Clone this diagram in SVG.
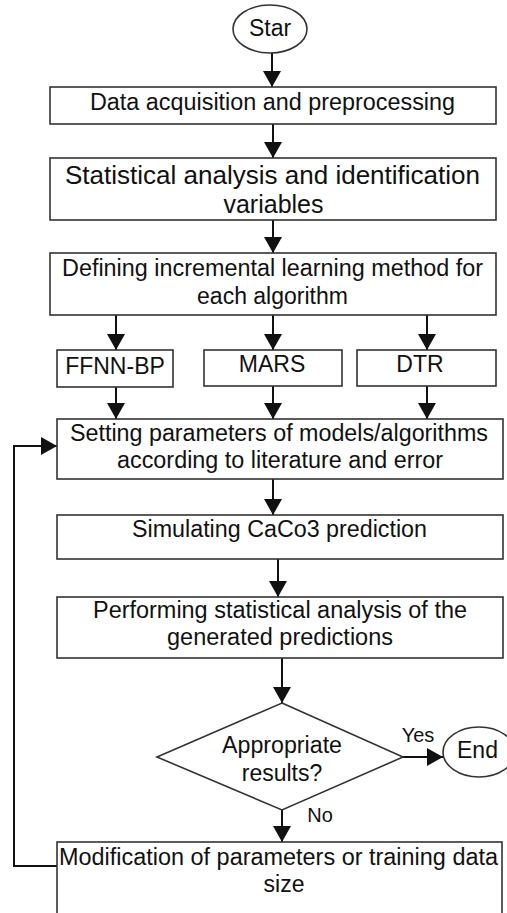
<svg xmlns="http://www.w3.org/2000/svg" width="507" height="913" viewBox="0 0 507 913">
<style>
.box{fill:#fff;stroke:#333;stroke-width:1.6}
.t{font-family:"Liberation Sans",Arial,sans-serif;font-size:23px;fill:#111;text-anchor:middle}
.big{font-size:25px}
.lbl{font-size:20px}
.c{fill:none;stroke:#111;stroke-width:2}
</style>
<defs>
<marker id="ah" viewBox="0 0 16 18" refX="16" refY="9" markerWidth="16" markerHeight="18" markerUnits="userSpaceOnUse" orient="auto">
<path d="M0,0 L16,9 L0,18 z" fill="#111"/>
</marker>
</defs>
<rect width="507" height="913" fill="#fff"/>
<g id="connectors">
<line class="c" x1="272" y1="53" x2="272" y2="87" marker-end="url(#ah)"/>
<line class="c" x1="273" y1="124" x2="273" y2="158" marker-end="url(#ah)"/>
<line class="c" x1="273" y1="220" x2="273" y2="253" marker-end="url(#ah)"/>
<line class="c" x1="116" y1="315" x2="116" y2="350" marker-end="url(#ah)"/>
<line class="c" x1="273" y1="315" x2="273" y2="350" marker-end="url(#ah)"/>
<line class="c" x1="427" y1="315" x2="427" y2="350" marker-end="url(#ah)"/>
<line class="c" x1="116" y1="387" x2="116" y2="419" marker-end="url(#ah)"/>
<line class="c" x1="273" y1="386" x2="273" y2="419" marker-end="url(#ah)"/>
<line class="c" x1="427" y1="386" x2="427" y2="419" marker-end="url(#ah)"/>
<line class="c" x1="273" y1="479" x2="273" y2="515" marker-end="url(#ah)"/>
<line class="c" x1="278" y1="559" x2="278" y2="597" marker-end="url(#ah)"/>
<line class="c" x1="282" y1="658" x2="282" y2="703" marker-end="url(#ah)"/>
<line class="c" x1="403" y1="757" x2="443" y2="757" marker-end="url(#ah)"/>
<line class="c" x1="282" y1="810" x2="282" y2="842" marker-end="url(#ah)"/>
<polyline class="c" points="57,866 14,866 14,446 57,446" marker-end="url(#ah)"/>
<text class="t lbl" x="418" y="742">Yes</text>
<text class="t lbl" x="320" y="822">No</text>
</g>
<g id="start">
<ellipse class="box" cx="270" cy="29" rx="37" ry="24"/>
<text class="t" x="270" y="36">Star</text>
</g>
<g id="box1">
<rect class="box" x="50" y="87" width="446" height="37"/>
<text class="t" x="272.5" y="110" textLength="365" lengthAdjust="spacingAndGlyphs">Data acquisition and preprocessing</text>
</g>
<g id="box2">
<rect class="box" x="50" y="158" width="446" height="62"/>
<text class="t big" x="272.5" y="184" textLength="415" lengthAdjust="spacingAndGlyphs">Statistical analysis and identification</text>
<text class="t big" x="273.5" y="213">variables</text>
</g>
<g id="box3">
<rect class="box" x="50" y="253" width="446" height="62"/>
<text class="t" x="272.5" y="276" textLength="421" lengthAdjust="spacingAndGlyphs">Defining incremental learning method for</text>
<text class="t" x="272.5" y="304">each algorithm</text>
</g>
<g id="ffnn">
<rect class="box" x="57" y="350" width="116" height="37"/>
<text class="t" x="115" y="374">FFNN-BP</text>
</g>
<g id="mars">
<rect class="box" x="204" y="350" width="138" height="36"/>
<text class="t" x="272" y="372">MARS</text>
</g>
<g id="dtr">
<rect class="box" x="357" y="350" width="139" height="36"/>
<text class="t" x="420" y="372">DTR</text>
</g>
<g id="box4">
<rect class="box" x="57" y="419" width="446" height="60"/>
<text class="t" x="279" y="441" textLength="418" lengthAdjust="spacingAndGlyphs">Setting parameters of models/algorithms</text>
<text class="t" x="280" y="468" textLength="326" lengthAdjust="spacingAndGlyphs">according to literature and error</text>
</g>
<g id="box5">
<rect class="box" x="57" y="515" width="446" height="44"/>
<text class="t" x="279.5" y="537" textLength="295" lengthAdjust="spacingAndGlyphs">Simulating CaCo3 prediction</text>
</g>
<g id="box6">
<rect class="box" x="57" y="597" width="446" height="61"/>
<text class="t" x="280" y="618" textLength="374" lengthAdjust="spacingAndGlyphs">Performing statistical analysis of the</text>
<text class="t" x="280" y="645" textLength="226" lengthAdjust="spacingAndGlyphs">generated predictions</text>
</g>
<g id="decision">
<polygon class="box" points="282,703 403,757 282,810 157,757"/>
<text class="t" x="282" y="753" textLength="120" lengthAdjust="spacingAndGlyphs">Appropriate</text>
<text class="t" x="282" y="781">results?</text>
</g>
<g id="end">
<ellipse class="box" cx="479" cy="752" rx="36" ry="25"/>
<text class="t" x="477.5" y="758">End</text>
</g>
<g id="box7">
<rect class="box" x="57" y="842" width="445" height="90"/>
<text class="t" x="278.5" y="865" textLength="439" lengthAdjust="spacingAndGlyphs">Modification of parameters or training data</text>
<text class="t" x="284" y="892">size</text>
</g>
</svg>
